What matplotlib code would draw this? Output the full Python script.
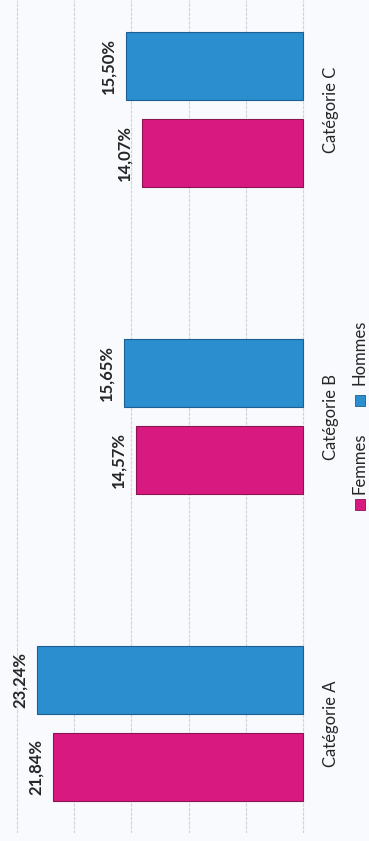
import numpy as np
import matplotlib.pyplot as plt
import matplotlib.transforms as mtransforms
from matplotlib.patches import Rectangle

plt.rcParams['font.family'] = ['Lato', 'DejaVu Sans']

categories = ["Catégorie A", "Catégorie B", "Catégorie C"]
femmes = [21.84, 14.57, 14.07]
hommes = [23.24, 15.65, 15.50]
series_names = ["Femmes", "Hommes"]

col_f = "#d81a80"
col_h = "#2b8ecf"
bg = "#f8fafd"

fig = plt.figure(figsize=(3.69, 8.41), dpi=100)
fig.patch.set_facecolor(bg)

W, H = 369, 841
# plot area in pixels: x 12..306, y (from bottom) 8..841
ax = fig.add_axes([12 / W, 8 / H, 294 / W, 833 / H])
ax.set_facecolor(bg)

y = np.arange(len(categories))
h = 0.222
off = 0.142

bars_f = ax.barh(y - off, femmes, height=h, color=col_f, edgecolor="#8c1452", linewidth=0.8, zorder=3)
bars_h = ax.barh(y + off, hommes, height=h, color=col_h, edgecolor="#1d5e94", linewidth=0.8, zorder=3)

ax.set_xlim(25.44, -0.26)
ax.set_ylim(-0.357, 2.357)
ax.set_xticks(np.arange(0, 26, 5))
ax.grid(axis="x", color="#cfd3dc", linewidth=0.8, linestyle=(0, (3, 1)), zorder=0)
ax.tick_params(left=False, bottom=False, labelleft=False, labelbottom=False)
for s in ax.spines.values():
    s.set_visible(False)

# value labels, rotated with the chart
for bars, vals in [(bars_f, femmes), (bars_h, hommes)]:
    for b, v in zip(bars, vals):
        ax.annotate(f"{v:.2f}%".replace(".", ","),
                    xy=(v, b.get_y() + b.get_height() / 2),
                    xytext=(-7, 0), textcoords="offset points",
                    ha="right", va="center", rotation=90,
                    fontsize=12, fontweight="bold", color="#262626")

# category labels on the right side
trans = mtransforms.blended_transform_factory(ax.transAxes, ax.transData)
for yi, c in zip(y, categories):
    ax.text((331 - 12) / 294, yi, c, transform=trans, rotation=90,
            ha="center", va="center", fontsize=12, color="#262626")

# legend drawn by hand, rotated
fig.patches.append(Rectangle((355 / W, (H - 510) / H), 10 / W, 11 / H,
                             transform=fig.transFigure, facecolor=col_f,
                             edgecolor="#8c1452", linewidth=0.6))
fig.text(360 / W, (H - 463) / H, series_names[0], rotation=90,
         ha="center", va="center", fontsize=12, color="#262626")
fig.patches.append(Rectangle((355 / W, (H - 406) / H), 10 / W, 11 / H,
                             transform=fig.transFigure, facecolor=col_h,
                             edgecolor="#1d5e94", linewidth=0.6))
fig.text(360 / W, (H - 352) / H, series_names[1], rotation=90,
         ha="center", va="center", fontsize=12, color="#262626")

fig.savefig("out.png", dpi=100, facecolor=bg)
